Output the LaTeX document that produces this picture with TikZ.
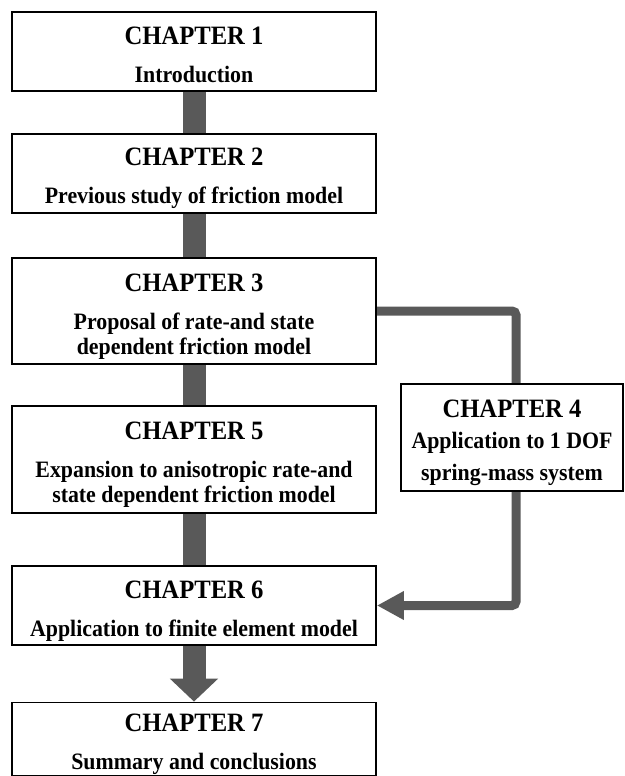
\documentclass[tikz,border=0pt]{standalone}
\usepackage{fontspec}
\setmainfont{Liberation Serif}[FakeStretch=0.93]
\usepackage{tikz}
\usetikzlibrary{arrows.meta, positioning, backgrounds}
\definecolor{linkcolor}{RGB}{89,89,89}
\newcommand{\chaptitle}[1]{{\fontsize{26.5}{25}\selectfont\rule{0pt}{28pt}#1}}
\newcommand{\lastline}{\rule[-5pt]{0pt}{5pt}}

\begin{document}
\begin{tikzpicture}[
    x=1pt, y=-1pt,
    chapbox/.style={draw, line width=1.8pt, fill=white, minimum width=364pt, inner sep=0pt, align=center, font=\bfseries\fontsize{23.5}{25}\selectfont},
    sidebox/.style={chapbox, minimum width=222pt},
    bar/.style={line width=23pt, linkcolor},
    bigarrow/.style={bar, -{Triangle[width=47pt, length=23pt]}},
    link/.style={line width=9pt, linkcolor, rounded corners=4pt, -{Triangle[width=27pt, length=27pt]}}
]
    \useasboundingbox (0,0) rectangle (624,776);

    % Chapters
    \node[chapbox, minimum height=79pt] (ch1) at (194,51.5) {\chaptitle{CHAPTER 1}\\[13pt]Introduction\lastline};
    \node[chapbox, minimum height=79pt] (ch2) at (194,173.5) {\chaptitle{CHAPTER 2}\\[13pt]Previous study of friction model\lastline};
    \node[chapbox, minimum height=106pt] (ch3) at (194,311) {\chaptitle{CHAPTER 3}\\[13pt]Proposal of rate-and state\\dependent friction model\lastline};
    \node[sidebox, minimum height=107pt] (ch4) at (512,437.5) {\chaptitle{CHAPTER 4}\\[6pt]Application to 1 DOF\\[7pt]spring-mass system\lastline};
    \node[chapbox, minimum height=107pt] (ch5) at (194,459.5) {\chaptitle{CHAPTER 5}\\[13pt]Expansion to anisotropic rate-and\\state dependent friction model\lastline};
    \node[chapbox, minimum height=79pt] (ch6) at (194,605.5) {\chaptitle{CHAPTER 6}\\[13pt]Application to finite element model\lastline};
    \node[chapbox, minimum height=73pt] (ch7) at (194,739) {\chaptitle{CHAPTER 7}\\[13pt]Summary and conclusions\lastline};

    % Links
    \begin{scope}[on background layer]
        \draw[bar] (ch1.south) -- (ch2.north);
        \draw[bar] (ch2.south) -- (ch3.north);
        \draw[bar] (ch3.south) -- (ch5.north);
        \draw[bar] (ch5.south) -- (ch6.north);
        \draw[bigarrow] (ch6.south) -- (ch7.north);
        \draw[link] (ch3.east) -| ([xshift=4pt]ch4.center) |- (ch6.east);
    \end{scope}
\end{tikzpicture}
\end{document}
